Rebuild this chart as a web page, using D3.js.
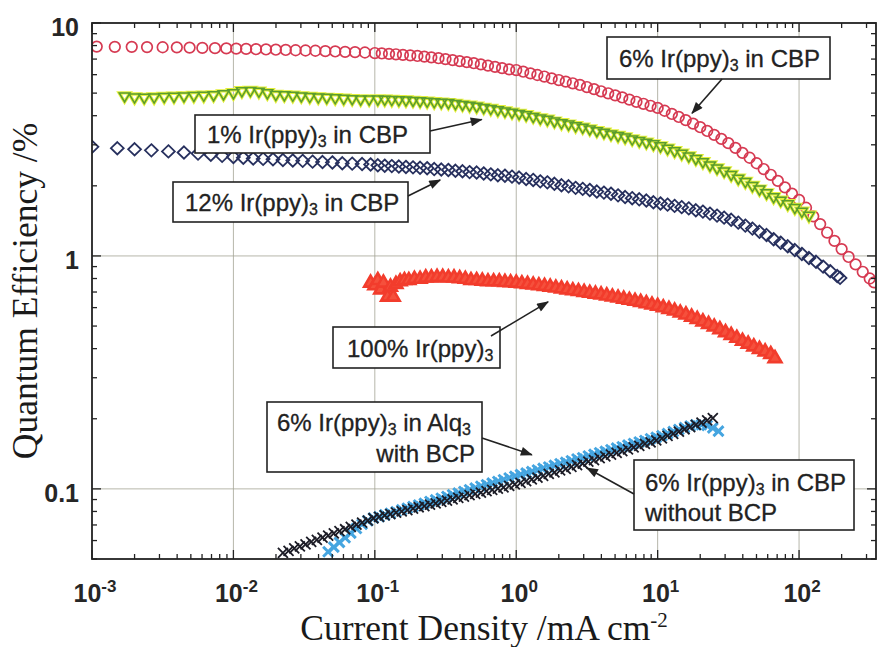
<!DOCTYPE html>
<meta charset="utf-8">
<script src="https://d3js.org/d3.v7.min.js"></script>
<style>

body {
  margin: 0;
  background: #fff;
}

svg {
  display: block;
}

.grid line {
  stroke: #a3a394;
  stroke-width: 0.8;
}

.ticks line {
  stroke: #222;
  stroke-width: 1.3;
}

.frame {
  fill: none;
  stroke: #222;
  stroke-width: 1.8;
}

.tick-label {
  font-family: "Liberation Sans", Arial, sans-serif;
  font-weight: bold;
  font-size: 25px;
  fill: #262626;
}

.axis-title {
  font-family: "Liberation Serif", "Times New Roman", serif;
  font-size: 35.5px;
  fill: #1a1a1a;
}

.note rect {
  fill: #fff;
  stroke: #222;
  stroke-width: 1.6;
}

.note text {
  font-family: "Liberation Sans", Arial, sans-serif;
  font-size: 24px;
  fill: #222;
  stroke: #222;
  stroke-width: 0.3;
}

.note line {
  stroke: #222;
  stroke-width: 1.6;
}

.cbp6 path   { fill: none; stroke: #d63a52; stroke-width: 1.7; }
.cbp1h path  { fill: none; stroke: #e4ef3c; stroke-width: 3.4; }
.cbp1 path   { fill: none; stroke: #5a9c2e; stroke-width: 1.5; }
.cbp12 path  { fill: none; stroke: #27305e; stroke-width: 1.8; }
.neat path   { fill: #f5503c; stroke: #f23c2c; stroke-width: 2.6; }
.alq path    { fill: none; stroke: #45a5e0; stroke-width: 3; }
.nobcp path  { fill: none; stroke: #1c1c26; stroke-width: 1.8; }

</style>
<body>
<div class="chart"></div>
<script type="text/javascript">

// 6% Ir(ppy)3 in CBP (red circles)
var cbp6X = [0.00108, 0.00145, 0.00191, 0.00245, 0.00316, 0.00398, 0.0049, 0.00603, 0.00741, 0.00891,
  0.01047, 0.0123, 0.01445, 0.017, 0.01995, 0.02344, 0.02754, 0.03236, 0.038, 0.04467, 0.05248, 0.06166, 0.07244, 0.08511,
  0.1, 0.112, 0.126, 0.141, 0.158, 0.178, 0.2, 0.224, 0.251, 0.282, 0.316, 0.355, 0.398, 0.447, 0.501, 0.562, 0.631, 0.708, 0.794, 0.891,
  1, 1.12, 1.26, 1.41, 1.58, 1.78, 2.0, 2.24, 2.51, 2.82, 3.16, 3.55, 3.98, 4.47, 5.01, 5.62, 6.31, 7.08, 7.94, 8.91,
  10, 11.2, 12.6, 14.1, 15.8, 17.8, 20.0, 22.4, 25.1, 28.2, 31.6, 35.5, 39.8, 44.7, 50.1, 56.2, 63.1, 70.8, 79.4, 89.1,
  100, 112, 126, 141, 158, 178, 200, 224, 251, 282, 316, 339];
var cbp6Y = [7.92, 7.9, 7.9, 7.88, 7.87, 7.86, 7.84, 7.82, 7.8, 7.78,
  7.76, 7.74, 7.72, 7.7, 7.68, 7.66, 7.64, 7.62, 7.6, 7.57, 7.55, 7.52, 7.5, 7.47,
  7.43, 7.4, 7.37, 7.34, 7.3, 7.26, 7.22, 7.17, 7.12, 7.06, 7.0, 6.93, 6.86, 6.79, 6.72, 6.64, 6.56, 6.48, 6.4, 6.32,
  6.28, 6.18, 6.08, 5.98, 5.89, 5.78, 5.69, 5.6, 5.51, 5.42, 5.31, 5.2, 5.09, 4.99, 4.89, 4.79, 4.69, 4.59, 4.5, 4.41,
  4.32, 4.2, 4.07, 3.95, 3.83, 3.7, 3.57, 3.44, 3.31, 3.18, 3.05, 2.91, 2.77, 2.64, 2.5, 2.36, 2.23, 2.1, 1.97, 1.85,
  1.74, 1.61, 1.48, 1.37, 1.26, 1.16, 1.07, 0.99, 0.92, 0.855, 0.8, 0.77];

// 1% Ir(ppy)3 in CBP (green triangles)
var cbp1X = [0.0017, 0.002, 0.00234, 0.00275, 0.00324, 0.0038, 0.00447, 0.00525, 0.00617, 0.00724, 0.00851, 0.01,
  0.01148, 0.01318, 0.01514, 0.01738, 0.01995, 0.02291, 0.0263, 0.0302, 0.03467, 0.03981, 0.04571, 0.05248, 0.06026, 0.06918, 0.07943, 0.0912,
  0.105, 0.1175, 0.1318, 0.1479, 0.166, 0.1862, 0.2089, 0.2344, 0.263, 0.2951, 0.3311, 0.3715, 0.4169, 0.4677, 0.5248, 0.5888, 0.6607, 0.7413, 0.8318, 0.9333,
  1.047, 1.175, 1.318, 1.479, 1.66, 1.862, 2.089, 2.344, 2.63, 2.951, 3.311, 3.715, 4.169, 4.677, 5.248, 5.888, 6.607, 7.413, 8.318, 9.333,
  10.47, 11.75, 13.18, 14.79, 16.6, 18.62, 20.89, 23.44, 26.3, 29.51, 33.11, 37.15, 41.69, 46.77, 52.48, 58.88, 66.07, 74.13, 83.18, 93.33,
  104.7, 117.5];
var cbp1Y = [4.85, 4.8, 4.78, 4.8, 4.82, 4.83, 4.85, 4.87, 4.88, 4.9, 4.95, 5.0,
  5.1, 5.12, 5.08, 5.0, 4.92, 4.9, 4.88, 4.85, 4.82, 4.8, 4.78, 4.76, 4.74, 4.72, 4.7, 4.7,
  4.7, 4.69, 4.68, 4.67, 4.66, 4.64, 4.62, 4.6, 4.58, 4.56, 4.54, 4.5, 4.46, 4.42, 4.38, 4.33, 4.28, 4.23, 4.18, 4.13,
  4.08, 4.03, 3.96, 3.9, 3.85, 3.78, 3.72, 3.67, 3.61, 3.56, 3.5, 3.44, 3.39, 3.33, 3.28, 3.23, 3.17, 3.12, 3.07, 3.02,
  2.96, 2.89, 2.82, 2.75, 2.68, 2.61, 2.53, 2.45, 2.38, 2.31, 2.23, 2.15, 2.08, 2.0, 1.93, 1.86, 1.79, 1.73, 1.67, 1.61,
  1.55, 1.49];

// 12% Ir(ppy)3 in CBP (navy diamonds)
var cbp12X = [0.001, 0.00151, 0.002, 0.00263, 0.00347, 0.00447, 0.00562, 0.00692, 0.00832, 0.01,
  0.01175, 0.0138, 0.01622, 0.01905, 0.02239, 0.0263, 0.0309, 0.0363, 0.04266, 0.05012, 0.05888, 0.06918, 0.08128, 0.09333,
  0.105, 0.1175, 0.1318, 0.1479, 0.166, 0.1862, 0.2089, 0.2344, 0.263, 0.2951, 0.3311, 0.3715, 0.4169, 0.4677, 0.5248, 0.5888, 0.6607, 0.7413, 0.8318, 0.9333,
  1.047, 1.175, 1.318, 1.479, 1.66, 1.862, 2.089, 2.344, 2.63, 2.951, 3.311, 3.715, 4.169, 4.677, 5.248, 5.888, 6.607, 7.413, 8.318, 9.333,
  10.47, 11.75, 13.18, 14.79, 16.6, 18.62, 20.89, 23.44, 26.3, 29.51, 33.11, 37.15, 41.69, 46.77, 52.48, 58.88, 66.07, 74.13, 83.18, 93.33,
  104.7, 117.5, 131.8, 147.9, 166, 186.2, 195];
var cbp12Y = [2.94, 2.9, 2.87, 2.84, 2.81, 2.78, 2.75, 2.72, 2.69, 2.66,
  2.64, 2.62, 2.61, 2.6, 2.58, 2.57, 2.56, 2.54, 2.53, 2.52, 2.5, 2.49, 2.48, 2.47,
  2.45, 2.44, 2.43, 2.42, 2.41, 2.4, 2.39, 2.38, 2.36, 2.35, 2.34, 2.32, 2.31, 2.29, 2.28, 2.26, 2.24, 2.22, 2.21, 2.19,
  2.17, 2.14, 2.12, 2.09, 2.07, 2.04, 2.01, 1.99, 1.96, 1.94, 1.92, 1.89, 1.87, 1.85, 1.82, 1.79, 1.77, 1.75, 1.73, 1.7,
  1.68, 1.66, 1.64, 1.62, 1.6, 1.57, 1.55, 1.52, 1.49, 1.46, 1.43, 1.39, 1.35, 1.31, 1.27, 1.23, 1.18, 1.14, 1.1, 1.06,
  1.02, 0.98, 0.944, 0.9, 0.86, 0.82, 0.805];

// 100% Ir(ppy)3 (red triangles)
var neatX = [0.0933, 0.1, 0.105, 0.11, 0.115, 0.123, 0.129, 0.135, 0.141, 0.151, 0.162, 0.174,
  0.1905, 0.2089, 0.2291, 0.2512, 0.2754, 0.302, 0.3311, 0.3631, 0.3981, 0.4365, 0.4786, 0.5248, 0.5754, 0.631, 0.6918, 0.7586, 0.8318, 0.912,
  1.0, 1.096, 1.202, 1.318, 1.445, 1.585, 1.738, 1.905, 2.089, 2.291, 2.512, 2.754, 3.02, 3.311, 3.631, 3.981, 4.365, 4.786, 5.248, 5.754, 6.31, 6.918, 7.586, 8.318, 9.12,
  10.0, 10.96, 12.02, 13.18, 14.45, 15.85, 17.38, 19.05, 20.89, 22.91, 25.12, 27.54, 30.2, 33.11, 36.31, 39.81, 43.65, 47.86, 52.48, 57.54, 63.1, 67.6];
var neatY = [0.77, 0.75, 0.79, 0.72, 0.77, 0.67, 0.74, 0.67, 0.76, 0.78, 0.79, 0.79,
  0.8, 0.8, 0.81, 0.81, 0.815, 0.815, 0.81, 0.81, 0.805, 0.8, 0.79, 0.79, 0.785, 0.78, 0.78, 0.78, 0.775, 0.772,
  0.77, 0.765, 0.76, 0.755, 0.75, 0.745, 0.74, 0.733, 0.727, 0.72, 0.714, 0.708, 0.702, 0.696, 0.69, 0.685, 0.678, 0.671, 0.664, 0.657, 0.65, 0.643, 0.636, 0.628, 0.62,
  0.612, 0.603, 0.594, 0.584, 0.573, 0.562, 0.55, 0.538, 0.525, 0.512, 0.499, 0.486, 0.472, 0.459, 0.446, 0.433, 0.421, 0.41, 0.4, 0.39, 0.38, 0.365];

// 6% Ir(ppy)3 in Alq3 with BCP (light blue)
var alqX = [0.04677, 0.05129, 0.05623, 0.06166, 0.06761, 0.07413, 0.08128, 0.08913, 0.09772,
  0.1072, 0.1175, 0.1288, 0.1413, 0.1549, 0.1698, 0.1862, 0.2042, 0.2239, 0.2455, 0.2692, 0.2951, 0.3236, 0.3548, 0.389, 0.4266, 0.4677, 0.5129, 0.5623, 0.6166, 0.6761, 0.7413, 0.8128, 0.8913, 0.9772,
  1.072, 1.175, 1.288, 1.413, 1.549, 1.698, 1.862, 2.042, 2.239, 2.455, 2.692, 2.951, 3.236, 3.548, 3.89, 4.266, 4.677, 5.129, 5.623, 6.166, 6.761, 7.413, 8.128, 8.913, 9.772,
  10.72, 11.75, 12.88, 14.13, 15.49, 16.98, 18.62, 20.42, 22.39, 24.55, 26.92];
var alqY = [0.0537, 0.0562, 0.0589, 0.0617, 0.0646, 0.0676, 0.0705, 0.073, 0.075,
  0.0759, 0.0773, 0.0785, 0.0798, 0.0813, 0.0826, 0.0839, 0.0853, 0.0867, 0.0883, 0.0897, 0.0912, 0.0927, 0.0944, 0.0959, 0.0975, 0.0991, 0.1007, 0.1026, 0.1042, 0.1059, 0.1076, 0.1094, 0.1114, 0.1132,
  0.1151, 0.1169, 0.1186, 0.1205, 0.1225, 0.1242, 0.1262, 0.1282, 0.13, 0.1321, 0.1343, 0.1361, 0.1384, 0.1406, 0.1429, 0.1449, 0.1472, 0.1496, 0.1517, 0.1542, 0.1567, 0.1589, 0.1614, 0.1641, 0.1663,
  0.169, 0.1726, 0.1762, 0.1799, 0.1832, 0.1862, 0.1884, 0.1888, 0.1871, 0.1828, 0.177];

// 6% Ir(ppy)3 in CBP without BCP (black crosses)
var nobcpX = [0.02239, 0.02455, 0.02692, 0.02951, 0.03236, 0.03548, 0.0389, 0.04266, 0.04677, 0.05129, 0.05623, 0.06166, 0.06761, 0.07413, 0.08128, 0.08913, 0.09772,
  0.1072, 0.1175, 0.1288, 0.1413, 0.1549, 0.1698, 0.1862, 0.2042, 0.2239, 0.2455, 0.2692, 0.2951, 0.3236, 0.3548, 0.389, 0.4266, 0.4677, 0.5129, 0.5623, 0.6166, 0.6761, 0.7413, 0.8128, 0.8913, 0.9772,
  1.072, 1.175, 1.288, 1.413, 1.549, 1.698, 1.862, 2.042, 2.239, 2.455, 2.692, 2.951, 3.236, 3.548, 3.89, 4.266, 4.677, 5.129, 5.623, 6.166, 6.761, 7.413, 8.128, 8.913, 9.772,
  10.72, 11.75, 12.88, 14.13, 15.49, 16.98, 18.62, 20.42, 22.39, 24.55];
var nobcpY = [0.0531, 0.0542, 0.0555, 0.0566, 0.0578, 0.0592, 0.0604, 0.0617, 0.063, 0.0644, 0.0658, 0.0671, 0.0687, 0.0702, 0.0716, 0.0731, 0.0748,
  0.0759, 0.0769, 0.078, 0.0791, 0.08, 0.0811, 0.0822, 0.0834, 0.0843, 0.0855, 0.0867, 0.0879, 0.0891, 0.0902, 0.0914, 0.0927, 0.094, 0.0951, 0.0964, 0.0977, 0.099, 0.1002, 0.1016, 0.103, 0.1045,
  0.1062, 0.1079, 0.1099, 0.1117, 0.1138, 0.1159, 0.1178, 0.12, 0.1219, 0.1242, 0.1265, 0.1285, 0.1309, 0.133, 0.1355, 0.138, 0.1403, 0.1429, 0.1452, 0.1479, 0.1507, 0.1531, 0.156, 0.1585, 0.1614,
  0.1648, 0.1687, 0.1722, 0.1762, 0.1803, 0.1841, 0.1884, 0.1923, 0.1968, 0.2014];

// axis ticks and labels
var xTicks = [1e-3, 1e-2, 1e-1, 1, 10, 100];
var xTickExp = ["-3", "-2", "-1", "0", "1", "2"];
var yTicks = [0.1, 1, 10];
var yTickLabels = ["0.1", "1", "10"];

// arrow tips of the labels, in data units
var noteTips = [[17.5, 4.1], [0.57, 3.85], [0.29, 2.12], [1.68, 0.635], [1.29, 0.14], [3.16, 0.123]];

// set the dimensions and margins of the graph
var margin = {top: 23, right: 1, bottom: 88, left: 92},
    width = 877 - margin.left - margin.right,
    height = 647 - margin.top - margin.bottom;

var x = d3.scaleLog().domain([1e-3, 350]).range([0, width]);
var y = d3.scaleLog().domain([0.05, 10]).range([height, 0]);

var svg = d3.select(".chart").append("svg")
    .attr("width", 877)
    .attr("height", 647);

var defs = svg.append("defs");
defs.append("clipPath").attr("id", "plot-clip")
  .append("rect").attr("width", width).attr("height", height);
defs.append("marker")
    .attr("id", "head")
    .attr("markerUnits", "userSpaceOnUse")
    .attr("viewBox", "0 0 12 9")
    .attr("markerWidth", 13)
    .attr("markerHeight", 9)
    .attr("refX", 11)
    .attr("refY", 4.5)
    .attr("orient", "auto")
  .append("path")
    .attr("d", "M0,0L12,4.5L0,9Z")
    .attr("fill", "#222");

var g = svg.append("g")
    .attr("transform", "translate(" + margin.left + "," + margin.top + ")");

function isDecade(d) {
  var l = Math.log10(d);
  return Math.abs(l - Math.round(l)) < 1e-6;
}

// grid lines at the decades
var grid = g.append("g").attr("class", "grid");
grid.selectAll(".gx")
  .data(xTicks.slice(1))
  .enter().append("line")
    .attr("x1", function(d) { return x(d); })
    .attr("x2", function(d) { return x(d); })
    .attr("y1", 0)
    .attr("y2", height);
grid.selectAll(".gy")
  .data(yTicks.slice(0, 2))
  .enter().append("line")
    .attr("x1", 0)
    .attr("x2", width)
    .attr("y1", function(d) { return y(d); })
    .attr("y2", function(d) { return y(d); });

// marker shapes
function circle() { return "M5.3,0A5.3,5.3 0 1,1 -5.3,0A5.3,5.3 0 1,1 5.3,0Z"; }
function triDown() { return "M-5.4,-3.3L5.4,-3.3L0,5.8Z"; }
function triUp() { return "M-6.4,4.2L6.4,4.2L0,-6.8Z"; }
function diamond() { return "M0,-6.2L6.4,0L0,6.2L-6.4,0Z"; }
function cross() { return "M-5,-5L5,5M-5,5L5,-5"; }

var plot = g.append("g").attr("clip-path", "url(#plot-clip)");

function drawSeries(xs, ys, cls, shape) {
  plot.append("g")
      .attr("class", cls)
    .selectAll("path")
    .data(d3.zip(xs, ys))
    .enter().append("path")
      .attr("transform", function(d) { return "translate(" + x(d[0]) + "," + y(d[1]) + ")"; })
      .attr("d", shape);
}

drawSeries(cbp6X, cbp6Y, "cbp6", circle);
drawSeries(cbp1X, cbp1Y, "cbp1h", triDown);
drawSeries(cbp1X, cbp1Y, "cbp1", triDown);
drawSeries(cbp12X, cbp12Y, "cbp12", diamond);
drawSeries(neatX, neatY, "neat", triUp);
drawSeries(alqX, alqY, "alq", cross);
drawSeries(nobcpX, nobcpY, "nobcp", cross);

// ticks, pointing inwards on all four sides
var xMinor = x.ticks().filter(function(d) { return !isDecade(d); });
var yMinor = y.ticks().filter(function(d) { return !isDecade(d); });

var ticks = g.append("g").attr("class", "ticks");
function xTickMarks(vals, len) {
  vals.forEach(function(d) {
    ticks.append("line").attr("x1", x(d)).attr("x2", x(d)).attr("y1", height).attr("y2", height - len);
    ticks.append("line").attr("x1", x(d)).attr("x2", x(d)).attr("y1", 0).attr("y2", len);
  });
}
function yTickMarks(vals, len) {
  vals.forEach(function(d) {
    ticks.append("line").attr("x1", 0).attr("x2", len).attr("y1", y(d)).attr("y2", y(d));
    ticks.append("line").attr("x1", width).attr("x2", width - len).attr("y1", y(d)).attr("y2", y(d));
  });
}
xTickMarks(xMinor, 5);
xTickMarks(xTicks, 9);
yTickMarks(yMinor, 5);
yTickMarks(yTicks, 9);

g.append("rect")
    .attr("class", "frame")
    .attr("width", width)
    .attr("height", height);

// tick labels
var xl = g.selectAll(".xl")
  .data(xTicks)
  .enter().append("text")
    .attr("class", "tick-label")
    .attr("text-anchor", "middle")
    .attr("x", function(d) { return x(d) + 3; })
    .attr("y", height + 43);
xl.append("tspan").text("10");
xl.append("tspan")
    .attr("font-size", "17px")
    .attr("dy", -10)
    .text(function(d, i) { return xTickExp[i]; });

g.selectAll(".yl")
  .data(yTicks)
  .enter().append("text")
    .attr("class", "tick-label")
    .attr("text-anchor", "end")
    .attr("x", -13)
    .attr("y", function(d) { return y(d) + 13; })
    .text(function(d, i) { return yTickLabels[i]; });

// axis titles
var xt = svg.append("text")
    .attr("class", "axis-title")
    .attr("text-anchor", "middle")
    .attr("x", margin.left + width / 2)
    .attr("y", 640);
xt.append("tspan").text("Current Density /mA cm");
xt.append("tspan").attr("font-size", "21px").attr("dy", -13).text("-2");

svg.append("text")
    .attr("class", "axis-title")
    .attr("text-anchor", "middle")
    .attr("transform", "translate(37," + (margin.top + height / 2) + ") rotate(-90)")
    .text("Quantum Efficiency /%");

// label boxes with arrows
var notes = [
  {box: [607, 37, 223, 42], tail: [722, 79],
   lines: [[12, 30, "start", [["6% Ir(ppy)", 0], ["3", 1], [" in CBP", 0]]]]},
  {box: [195, 115, 235, 38], tail: [430, 131],
   lines: [[12, 28, "start", [["1% Ir(ppy)", 0], ["3", 1], [" in CBP", 0]]]]},
  {box: [173, 182, 235, 40], tail: [408, 196],
   lines: [[12, 29, "start", [["12% Ir(ppy)", 0], ["3", 1], [" in CBP", 0]]]]},
  {box: [333, 327, 167, 41], tail: [491, 336],
   lines: [[14, 30, "start", [["100% Ir(ppy)", 0], ["3", 1]]]]},
  {box: [267, 402, 215, 70], tail: [482, 438],
   lines: [[10, 29, "start", [["6% Ir(ppy)", 0], ["3", 1], [" in Alq", 0], ["3", 1]]],
           [208, 60, "end", [["with BCP", 0]]]]},
  {box: [634, 460, 220, 70], tail: [634, 494],
   lines: [[11, 31, "start", [["6% Ir(ppy)", 0], ["3", 1], [" in CBP", 0]]],
           [11, 61, "start", [["without BCP", 0]]]]}
];

var note = svg.selectAll(".note")
  .data(notes)
  .enter().append("g")
    .attr("class", "note");

note.append("rect")
    .attr("x", function(d) { return d.box[0]; })
    .attr("y", function(d) { return d.box[1]; })
    .attr("width", function(d) { return d.box[2]; })
    .attr("height", function(d) { return d.box[3]; });

note.each(function(d, i) {
  var el = d3.select(this);
  d.lines.forEach(function(ln) {
    var t = el.append("text")
        .attr("x", d.box[0] + ln[0])
        .attr("y", d.box[1] + ln[1])
        .attr("text-anchor", ln[2]);
    var prevSub = 0;
    ln[3].forEach(function(seg) {
      var s = t.append("tspan").text(seg[0]);
      if (seg[1]) s.attr("font-size", "16px").attr("dy", 4);
      else if (prevSub) s.attr("dy", -4);
      prevSub = seg[1];
    });
  });
  el.append("line")
      .attr("x1", d.tail[0])
      .attr("y1", d.tail[1])
      .attr("x2", margin.left + x(noteTips[i][0]))
      .attr("y2", margin.top + y(noteTips[i][1]))
      .attr("marker-end", "url(#head)");
});

</script>
</body>
